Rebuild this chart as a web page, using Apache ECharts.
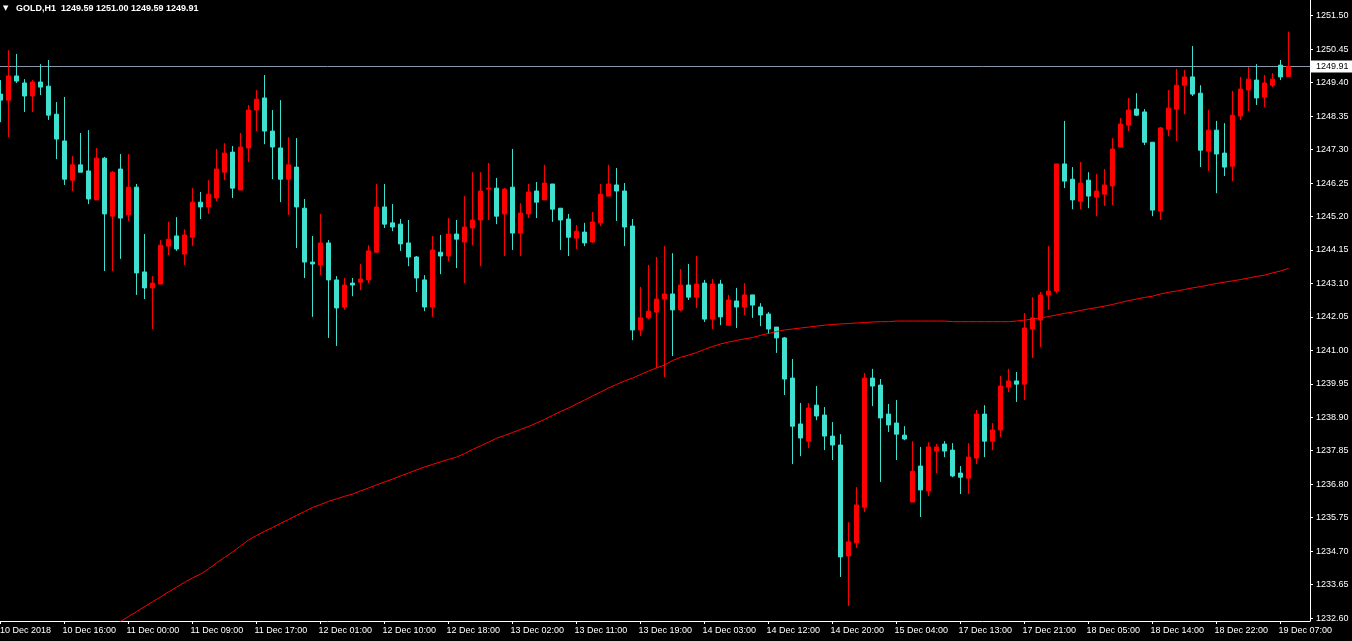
<!DOCTYPE html>
<html>
<head>
<meta charset="utf-8">
<script src="https://cdn.jsdelivr.net/npm/echarts@6/dist/echarts.min.js"></script>
<style>
html,body{margin:0;padding:0;background:#000;}
#chart{width:1352px;height:641px;}
</style>
</head>
<body>
<div id="chart"></div>
<script>
const symbolName = 'GOLD';
const timeframe = 'H1';

const xLabels = ['10 Dec 2018','10 Dec 16:00','11 Dec 00:00','11 Dec 09:00','11 Dec 17:00','12 Dec 01:00','12 Dec 10:00','12 Dec 18:00','13 Dec 02:00','13 Dec 11:00','13 Dec 19:00','14 Dec 03:00','14 Dec 12:00','14 Dec 20:00','15 Dec 04:00','17 Dec 13:00','17 Dec 21:00','18 Dec 05:00','18 Dec 14:00','18 Dec 22:00','19 Dec 07:00'];
const barsPerLabel = 8;

const yTicks = [1251.50,1250.45,1249.40,1248.35,1247.30,1246.25,1245.20,1244.15,1243.10,1242.05,1241.00,1239.95,1238.90,1237.85,1236.80,1235.75,1234.70,1233.65,1232.60];

const opens = [1249.04,1248.85,1249.61,1249.39,1248.98,1249.42,1249.29,1248.41,1247.57,1246.34,
1246.82,1246.63,1245.72,1247.03,1245.21,1246.69,1245.25,1246.12,1243.46,1242.96,
1243.08,1244.27,1244.59,1244.02,1244.55,1245.65,1245.50,1245.78,1246.59,1247.22,
1246.03,1247.35,1248.54,1248.92,1247.88,1247.35,1246.37,1246.75,1245.46,1243.77,
1243.68,1244.37,1243.21,1242.36,1243.11,1243.14,1243.21,1244.08,1245.50,1245.00,
1244.96,1244.37,1243.93,1243.21,1242.36,1244.08,1243.96,1244.65,1244.40,1244.84,
1245.09,1246.06,1246.09,1245.28,1246.12,1244.68,1245.28,1246.00,1245.72,1246.22,
1245.46,1245.12,1244.52,1244.71,1244.40,1245.00,1245.84,1246.19,1246.00,1244.90,
1241.64,1242.02,1242.20,1242.61,1242.77,1242.27,1243.05,1242.67,1243.11,1241.98,
1243.08,1241.79,1242.55,1242.36,1242.74,1242.36,1242.14,1241.73,1241.39,1240.13,
1238.69,1238.15,1239.28,1238.97,1238.31,1238.03,1234.55,1234.96,1236.08,1240.13,
1239.91,1239.00,1238.72,1238.34,1236.24,1237.37,1236.59,1237.84,1238.06,1237.87,
1237.15,1236.99,1237.62,1239.00,1238.15,1238.50,1239.85,1240.04,1239.94,1241.67,
1241.95,1242.74,1242.86,1246.85,1246.37,1245.68,1246.34,1245.81,1245.90,1246.16,
1247.38,1248.07,1248.57,1248.48,1247.53,1245.37,1247.94,1248.57,1249.32,1249.58,
1249.07,1247.25,1247.91,1247.19,1246.78,1248.35,1249.17,1249.48,1248.95,1249.32,
1249.95,1249.59];

const highs = [1249.48,1250.42,1250.30,1249.51,1249.48,1249.98,1250.11,1248.79,1248.95,1247.10,
1247.82,1247.91,1247.35,1247.07,1246.63,1247.16,1247.16,1246.22,1244.65,1243.33,
1244.46,1245.03,1245.18,1244.80,1246.09,1245.97,1246.34,1247.32,1247.50,1247.41,
1247.82,1248.70,1249.17,1249.64,1248.54,1248.85,1247.69,1247.66,1245.75,1244.59,
1245.28,1244.46,1243.33,1243.27,1243.27,1243.71,1244.30,1246.22,1246.22,1245.59,
1245.12,1245.09,1243.96,1243.36,1244.59,1244.62,1245.15,1245.09,1245.84,1246.59,
1246.59,1246.88,1246.41,1246.09,1247.32,1245.62,1246.22,1246.28,1246.82,1246.22,
1245.46,1245.28,1244.93,1245.00,1245.34,1246.22,1246.82,1246.72,1246.25,1245.12,
1242.99,1243.68,1243.93,1244.27,1244.05,1243.55,1243.71,1243.96,1243.21,1243.24,
1243.21,1242.74,1242.96,1243.11,1242.74,1242.48,1242.20,1241.73,1241.42,1240.73,
1239.35,1239.35,1239.88,1239.22,1238.75,1238.37,1235.61,1236.71,1240.29,1240.42,
1240.10,1239.32,1239.44,1238.62,1238.15,1237.97,1238.12,1238.06,1238.15,1238.09,
1237.37,1238.09,1239.13,1239.28,1238.72,1240.20,1240.42,1240.32,1242.17,1242.67,
1242.83,1244.27,1246.85,1248.20,1246.75,1246.91,1246.59,1246.53,1246.69,1247.66,
1248.29,1248.92,1249.07,1248.57,1247.53,1248.01,1249.17,1249.83,1249.80,1250.55,
1249.32,1248.54,1248.20,1248.13,1249.14,1249.58,1249.89,1249.98,1249.64,1249.70,
1250.11,1251.00];

const lows = [1248.16,1247.69,1249.39,1248.48,1248.48,1249.01,1248.23,1247.00,1246.19,1246.00,
1246.59,1245.59,1245.72,1243.49,1243.49,1243.87,1245.06,1242.74,1242.61,1241.67,
1243.08,1243.99,1244.12,1243.68,1244.27,1245.12,1245.28,1245.68,1246.34,1245.78,
1246.03,1246.91,1247.88,1247.47,1246.37,1245.65,1245.25,1244.21,1243.27,1242.05,
1243.36,1241.39,1241.14,1242.27,1242.70,1242.89,1243.11,1244.08,1244.84,1244.74,
1244.12,1243.64,1242.83,1242.23,1242.05,1243.39,1243.80,1243.58,1243.11,1244.30,
1243.64,1245.09,1244.96,1243.96,1244.15,1243.96,1245.15,1245.15,1245.72,1245.03,
1244.15,1243.96,1244.18,1244.27,1244.37,1244.90,1245.84,1245.06,1244.27,1241.32,
1241.45,1241.98,1240.45,1240.16,1240.82,1242.23,1242.58,1242.33,1241.89,1241.67,
1241.79,1241.79,1241.70,1242.11,1242.02,1241.76,1241.51,1240.92,1239.60,1237.43,
1237.68,1237.93,1238.81,1237.87,1237.56,1233.89,1232.98,1234.80,1235.93,1239.25,
1236.87,1238.44,1237.56,1238.18,1236.24,1235.77,1236.43,1237.15,1237.65,1237.02,
1236.49,1236.49,1237.43,1237.65,1237.87,1238.28,1239.69,1239.38,1239.44,1240.76,
1241.10,1242.27,1242.80,1246.09,1245.43,1245.43,1245.46,1245.21,1245.53,1245.56,
1247.38,1247.88,1248.35,1247.44,1245.21,1245.09,1247.72,1247.57,1248.41,1248.98,
1246.75,1246.63,1245.93,1246.47,1246.31,1248.23,1248.51,1248.70,1248.63,1249.26,
1249.48,1249.59];

const closes = [1248.85,1249.61,1249.45,1248.98,1249.42,1249.26,1248.38,1247.63,1246.37,1246.82,
1246.59,1245.75,1247.03,1245.28,1246.59,1245.15,1246.12,1243.43,1242.96,1243.11,
1244.30,1244.49,1244.18,1244.62,1245.65,1245.50,1245.90,1246.69,1247.19,1246.09,
1247.38,1248.54,1248.88,1247.88,1247.38,1246.37,1246.82,1245.50,1243.77,1243.71,
1244.37,1243.21,1242.33,1243.05,1243.05,1243.24,1244.12,1245.50,1244.96,1244.87,
1244.34,1243.93,1243.27,1242.36,1244.15,1243.96,1244.65,1244.49,1244.87,1245.09,
1246.00,1246.09,1245.21,1246.06,1244.68,1245.31,1245.97,1245.65,1246.25,1245.43,
1245.09,1244.55,1244.74,1244.37,1245.03,1245.90,1246.22,1246.00,1244.87,1241.64,
1242.02,1242.23,1242.61,1242.77,1242.27,1243.05,1242.67,1243.08,1241.98,1243.08,
1242.05,1242.58,1242.36,1242.74,1242.42,1242.11,1241.67,1241.39,1240.10,1238.62,
1238.25,1239.19,1238.94,1238.31,1238.03,1234.52,1234.99,1236.15,1240.13,1239.88,
1238.88,1238.66,1238.37,1238.22,1237.21,1236.62,1237.97,1237.97,1237.84,1237.06,
1237.02,1237.65,1239.00,1238.15,1238.50,1239.88,1240.04,1239.94,1241.70,1242.02,
1242.74,1242.86,1246.85,1246.31,1245.72,1246.25,1245.84,1246.00,1246.19,1247.32,
1248.10,1248.54,1248.38,1247.53,1245.40,1247.98,1248.60,1249.32,1249.58,1249.04,
1247.28,1247.91,1247.16,1246.75,1248.38,1249.20,1249.51,1248.92,1249.39,1249.51,
1249.58,1249.91];

// moving average, first drawn bar index = maStart
const maStart = 14;
const maValues = [1232.35,1232.49,1232.65,1232.80,1232.96,1233.11,1233.26,1233.42,1233.57,1233.72,
1233.86,1233.98,1234.14,1234.33,1234.50,1234.67,1234.86,1235.05,1235.19,1235.32,
1235.44,1235.57,1235.69,1235.82,1235.94,1236.07,1236.16,1236.26,1236.34,1236.42,
1236.49,1236.59,1236.68,1236.78,1236.87,1236.96,1237.06,1237.15,1237.25,1237.34,
1237.42,1237.50,1237.58,1237.65,1237.76,1237.89,1238.00,1238.12,1238.24,1238.33,
1238.42,1238.52,1238.61,1238.72,1238.83,1238.96,1239.08,1239.19,1239.32,1239.44,
1239.57,1239.69,1239.82,1239.93,1240.04,1240.13,1240.24,1240.35,1240.45,1240.54,
1240.68,1240.78,1240.85,1240.93,1241.03,1241.12,1241.20,1241.26,1241.31,1241.36,
1241.40,1241.47,1241.53,1241.59,1241.64,1241.67,1241.70,1241.73,1241.76,1241.79,
1241.81,1241.83,1241.84,1241.86,1241.87,1241.89,1241.90,1241.90,1241.92,1241.92,
1241.92,1241.92,1241.92,1241.92,1241.92,1241.90,1241.90,1241.90,1241.90,1241.90,
1241.90,1241.90,1241.90,1241.92,1241.95,1241.98,1242.02,1242.06,1242.11,1242.16,
1242.20,1242.25,1242.30,1242.34,1242.39,1242.44,1242.50,1242.56,1242.61,1242.66,
1242.70,1242.77,1242.82,1242.86,1242.91,1242.96,1243.00,1243.05,1243.10,1243.14,
1243.18,1243.22,1243.27,1243.32,1243.36,1243.43,1243.49,1243.57];

const FONT = 'Liberation Sans';
const X_MIN = -0.0625, X_MAX = 163.6875;
const last = opens.length - 1;
const candleData = opens.map((o, i) => [i, o, closes[i], lows[i], highs[i]]);
const maData = maValues.map((v, i) => [maStart + i, v]);
const xTickValues = xLabels.map((_, i) => i * barsPerLabel);
// label anchors nudged a quarter bar left so the text starts right at its tick
const xLabelAnchors = xTickValues.map(v => Math.max(v - 0.25, X_MIN));
const fmt = v => v.toFixed(2);
const headerText = symbolName + ',' + timeframe + '  ' +
  fmt(opens[last]) + ' ' + fmt(highs[last]) + ' ' + fmt(lows[last]) + ' ' + fmt(closes[last]);

const chart = echarts.init(document.getElementById('chart'), null, {renderer: 'canvas'});
chart.setOption({
  backgroundColor: '#000000',
  animation: false,
  title: {
    left: 3, top: 4, padding: 0,
    text: '{t|▼}{h|   ' + headerText + '}',
    textStyle: {
      fontSize: 9,
      rich: {
        t: {color: '#ffffff', fontSize: 7, fontFamily: 'DejaVu Sans'},
        h: {color: '#ffffff', fontSize: 9, fontFamily: FONT}
      }
    }
  },
  grid: {left: 0, right: 42, top: 0, bottom: 20, containLabel: false, outerBoundsMode: 'none'},
  xAxis: {
    type: 'value',
    min: X_MIN,
    max: X_MAX,
    axisLine: {show: true, onZero: false, lineStyle: {color: '#ffffff', width: 1}},
    axisTick: {show: true, customValues: xTickValues, length: 3, lineStyle: {color: '#ffffff'}},
    axisLabel: {
      show: true, customValues: xLabelAnchors, color: '#ffffff', fontSize: 9, fontFamily: FONT,
      align: 'left', margin: 5, hideOverlap: false, showMinLabel: true, showMaxLabel: true,
      formatter: v => xLabels[Math.round(v / barsPerLabel)] || ''
    },
    splitLine: {show: false}
  },
  yAxis: {
    type: 'value',
    position: 'right',
    min: 1232.508,
    max: 1251.993,
    axisLine: {show: true, onZero: false, lineStyle: {color: '#ffffff', width: 1}},
    axisTick: {show: true, customValues: yTicks, length: 3, lineStyle: {color: '#ffffff'}},
    axisLabel: {
      show: true, customValues: yTicks, color: '#ffffff', fontSize: 9, fontFamily: FONT,
      margin: 6, hideOverlap: false, formatter: v => v.toFixed(2)
    },
    splitLine: {show: false}
  },
  series: [
    {
      type: 'candlestick',
      data: candleData,
      barWidth: 4,
      z: 3,
      itemStyle: {
        color: '#ff0000', color0: '#40e0d0',
        borderColor: '#ff0000', borderColor0: '#40e0d0', borderColorDoji: '#ff0000',
        borderWidth: 1
      },
      markLine: {
        silent: true,
        symbol: ['none', 'none'],
        z: 1,
        lineStyle: {color: '#8796ab', width: 1, type: 'solid'},
        label: {
          show: true, position: 'end', distance: 1,
          backgroundColor: '#ffffff', color: '#000000',
          fontSize: 9, fontFamily: FONT, padding: [1, 4, 1, 5], lineHeight: 10,
          formatter: p => p.value.toFixed(2)
        },
        data: [{yAxis: closes[last]}]
      }
    },
    {
      type: 'line',
      data: maData,
      showSymbol: false,
      symbol: 'none',
      z: 4,
      clip: true,
      lineStyle: {color: '#ff0000', width: 1},
      silent: true
    }
  ]
});
</script>
</body>
</html>
